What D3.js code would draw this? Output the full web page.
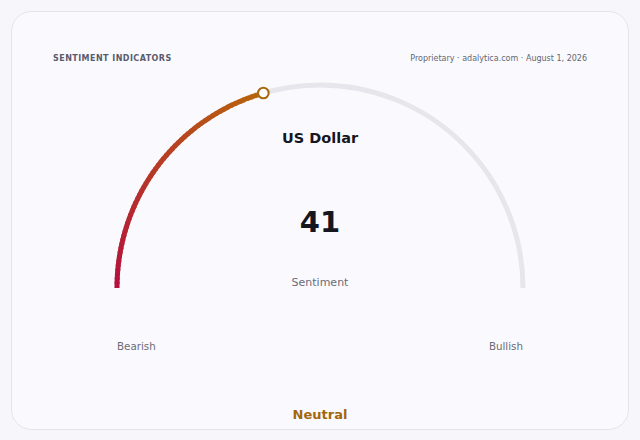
<!DOCTYPE html>
<html>
<head>
<meta charset="utf-8">
<script src="https://cdn.jsdelivr.net/npm/d3@7"></script>
<style>
  html, body { margin: 0; padding: 0; background: #f7f7fb; }
  svg { display: block; font-family: "DejaVu Sans", sans-serif; }
</style>
</head>
<body>
<div id="chart"></div>
<script>
// data
const indicators = ['US Dollar'];
const values = [41];
const domainEnds = [0, 100];
const endLabels = ['Bearish', 'Bullish'];
const moodLabels = ['Neutral'];
const metricLabels = ['Sentiment'];

const W = 640, H = 440;
const svg = d3.select('#chart').append('svg')
  .attr('width', W).attr('height', H);

// card
svg.append('rect')
  .attr('x', 11.5).attr('y', 11.5)
  .attr('width', 617).attr('height', 418)
  .attr('rx', 20)
  .attr('fill', '#fafafe')
  .attr('stroke', '#e3e3ea');

svg.append('text')
  .attr('x', 53).attr('y', 61)
  .attr('font-size', 8).attr('font-weight', 'bold')
  .attr('letter-spacing', 0.45)
  .attr('fill', '#5b5b6e')
  .text('SENTIMENT INDICATORS');

svg.append('text')
  .attr('x', 587).attr('y', 61)
  .attr('text-anchor', 'end')
  .attr('font-size', 8)
  .attr('fill', '#66666f')
  .text('Proprietary · adalytica.com · August 1, 2026');

const cx = 320, cy = 288, r = 203;
const angle = d3.scaleLinear().domain(domainEnds).range([-Math.PI / 2, Math.PI / 2]);
const g = svg.append('g').attr('transform', `translate(${cx},${cy})`);

const arc = d3.arc().innerRadius(r).outerRadius(r);

// track
g.append('path')
  .attr('d', arc({ startAngle: angle(domainEnds[0]), endAngle: angle(domainEnds[1]) }))
  .attr('fill', 'none')
  .attr('stroke', '#e6e6ec')
  .attr('stroke-width', 5)
  .attr('stroke-linecap', 'round');

// value arc drawn as short segments with colour shifting red -> amber
const v = values[0];
const color = d3.interpolateRgb('#b5103f', '#b8650c');
const steps = 60;
const at = k => domainEnds[0] + (v - domainEnds[0]) * Math.min(k, steps) / steps;
const segs = d3.range(steps).map(i => ({
  startAngle: angle(at(i)),
  endAngle: angle(at(i + 1.4)),
  t: i / (steps - 1)
}));
g.selectAll('.seg').data(segs).enter().append('path')
  .attr('class', 'seg')
  .attr('d', d => arc(d))
  .attr('fill', 'none')
  .attr('stroke', d => color(d.t))
  .attr('stroke-width', 5)
  .attr('stroke-linecap', (d, i) => i === 0 ? 'round' : 'butt');

// marker
const a = angle(v);
g.append('circle')
  .attr('cx', r * Math.sin(a))
  .attr('cy', -r * Math.cos(a))
  .attr('r', 5.3)
  .attr('fill', '#ffffff')
  .attr('stroke', '#a8680f')
  .attr('stroke-width', 2);

// centre text
svg.append('text')
  .attr('x', cx).attr('y', 143)
  .attr('text-anchor', 'middle')
  .attr('font-size', 14.5).attr('font-weight', 'bold')
  .attr('fill', '#16161e')
  .text(indicators[0]);

svg.append('text')
  .attr('x', cx).attr('y', 232)
  .attr('text-anchor', 'middle')
  .attr('font-size', 29).attr('font-weight', 'bold')
  .attr('fill', '#16161e')
  .text(v);

svg.append('text')
  .attr('x', cx).attr('y', 286)
  .attr('text-anchor', 'middle')
  .attr('font-size', 11)
  .attr('fill', '#6b6b76')
  .text(metricLabels[0]);

svg.append('text')
  .attr('x', cx - r).attr('y', 350)
  .attr('font-size', 10.3)
  .attr('fill', '#6b6b76')
  .text(endLabels[0]);

svg.append('text')
  .attr('x', cx + r).attr('y', 350)
  .attr('text-anchor', 'end')
  .attr('font-size', 10.3)
  .attr('fill', '#6b6b76')
  .text(endLabels[1]);

svg.append('text')
  .attr('x', cx).attr('y', 419)
  .attr('text-anchor', 'middle')
  .attr('font-size', 13).attr('font-weight', 'bold')
  .attr('fill', '#a3660f')
  .text(moodLabels[0]);
</script>
</body>
</html>
